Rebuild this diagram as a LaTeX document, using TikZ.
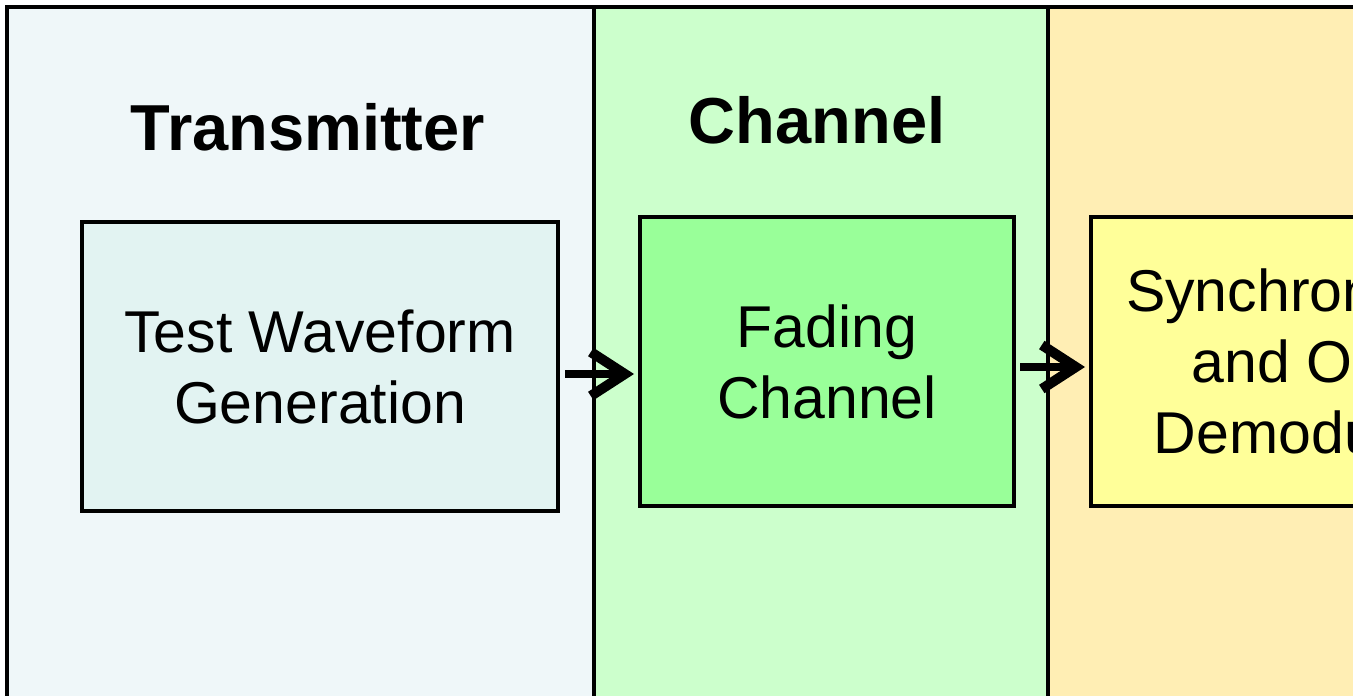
\documentclass[tikz,border=0pt]{standalone}
\usepackage{fontspec}
\setmainfont{Liberation Sans}
\usetikzlibrary{arrows.meta}
\definecolor{panelA}{HTML}{EFF7F9}
\definecolor{panelB}{HTML}{CCFFCC}
\definecolor{panelC}{HTML}{FFEEB4}
\definecolor{blockA}{HTML}{E2F3F2}
\definecolor{blockB}{HTML}{99FF99}
\definecolor{blockC}{HTML}{FFFF99}
\begin{document}
\begin{tikzpicture}[x=1pt,y=-1pt,
  panel/.style={draw=black, line width=4.5pt},
  block/.style={draw=black, line width=4pt, minimum height=289pt, align=center,
    inner sep=0pt, font=\fontsize{59}{71}\selectfont},
  title/.style={anchor=base, font=\fontsize{65}{70}\selectfont\bfseries},
  arr/.style={line width=8pt, -{Straight Barb[length=34pt,width=44pt,line width=10pt]}}]
\useasboundingbox (0,0) rectangle (1353,696);
\clip (0,0) rectangle (1353,696);
\fill[panelA] (7,7) rectangle (594,720);
\fill[panelB] (594,7) rectangle (1048,720);
\fill[panelC] (1048,7) rectangle (1400,720);
\draw[panel] (7,720) -- (7,7) -- (1400,7);
\draw[panel] (594,7) -- (594,720);
\draw[panel] (1048,7) -- (1048,720);
\node[title] (t1) at (308,150) {Transmitter};
\node[title] (t2) at (817,143) {Channel};
\node[block, fill=blockA, minimum width=476pt] (b1) at (320,366.5) {Test Waveform\\Generation};
\node[block, fill=blockB, minimum width=374pt] (b2) at (827,361.5) {Fading\\Channel};
\node[block, fill=blockC, minimum width=490pt] (b3) at (1336,361.5) {Synchronization\\and OFDM\\Demodulation};
\draw[arr] ([xshift=5pt,yshift=-7.5pt]b1.east) -- ([xshift=-4pt,yshift=-12.5pt]b2.west);
\draw[arr] ([xshift=4pt,yshift=-5.5pt]b2.east) -- ([xshift=-4pt,yshift=-5.5pt]b3.west);
\end{tikzpicture}
\end{document}
